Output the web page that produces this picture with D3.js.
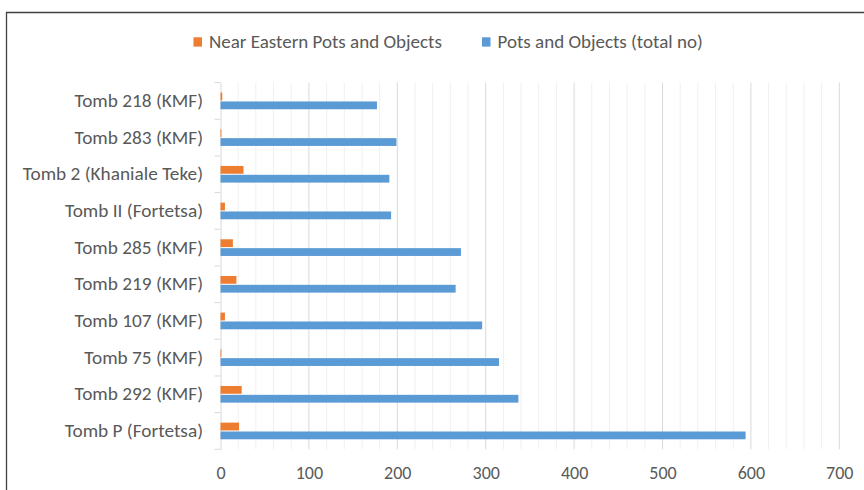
<!DOCTYPE html>
<html>
<head>
<meta charset="utf-8">
<script src="https://cdn.jsdelivr.net/npm/d3@7"></script>
<style>
  body { margin: 0; background: #fff; }
  text { font-family: "Carlito", "Noto Sans", sans-serif; }
</style>
</head>
<body>
<div id="chart"></div>
<script>
// data, top row first
const tombs = ["Tomb 218 (KMF)", "Tomb 283 (KMF)", "Tomb 2 (Khaniale Teke)", "Tomb II (Fortetsa)",
  "Tomb 285 (KMF)", "Tomb 219 (KMF)", "Tomb 107 (KMF)", "Tomb 75 (KMF)", "Tomb 292 (KMF)", "Tomb P (Fortetsa)"];
const nearEastern = [2, 1, 26, 5, 14, 18, 5, 1, 24, 21];
const totalObjects = [177, 199, 191, 193, 272, 266, 296, 315, 337, 594];
const seriesNames = ["Near Eastern Pots and Objects", "Pots and Objects (total no)"];
const seriesColors = ["#ED7D31", "#5B9BD5"];
const xTicks = [0, 100, 200, 300, 400, 500, 600, 700];

const width = 864, height = 490;
const margin = {top: 82.6, right: 25, bottom: 40.7, left: 220.5};

const svg = d3.select("#chart").append("svg")
  .attr("width", width)
  .attr("height", height);

// chart frame (cut off on right and bottom like the original)
svg.append("path")
  .attr("d", `M6.5,${height} V12.5 H${width}`)
  .attr("fill", "none")
  .attr("stroke", "#404040")
  .attr("stroke-width", 1.3);

const x = d3.scaleLinear()
  .domain([0, 700])
  .range([margin.left, 839.3]);

const y = d3.scaleBand()
  .domain(tombs)
  .range([margin.top, height - margin.bottom]);

const inner = d3.scaleBand()
  .domain([0, 1])
  .range([10, y.bandwidth() - 10])
  .paddingInner(0.12);

// gridlines every 20, darker every 100
svg.append("g")
  .selectAll("line")
  .data(d3.range(20, 701, 20))
  .enter().append("line")
    .attr("x1", d => x(d)).attr("x2", d => x(d))
    .attr("y1", margin.top).attr("y2", height - margin.bottom)
    .attr("stroke", d => d % 100 === 0 ? "#d9d9d9" : "#f0f0f0")
    .attr("stroke-width", 1);

// category axis
const yAxis = svg.append("g")
  .attr("transform", `translate(${margin.left},0)`)
  .call(d3.axisLeft(y).tickSize(0).tickPadding(17.5));
yAxis.select(".domain").attr("stroke", "#d9d9d9");
yAxis.selectAll("text")
  .attr("fill", "#595959")
  .style("font-size", "19.3px");

// small tick marks between categories
svg.append("g")
  .selectAll("line")
  .data(tombs.map(t => y(t)).concat([height - margin.bottom]))
  .enter().append("line")
    .attr("x1", margin.left - 6).attr("x2", margin.left)
    .attr("y1", d => d).attr("y2", d => d)
    .attr("stroke", "#d9d9d9");

// value axis labels
const xAxis = svg.append("g")
  .attr("transform", `translate(0,${height - margin.bottom})`)
  .call(d3.axisBottom(x).tickValues(xTicks).tickSize(0).tickPadding(17));
xAxis.select(".domain").remove();
xAxis.selectAll("text")
  .attr("fill", "#595959")
  .style("font-size", "18px");

// bars
const seriesData = [nearEastern, totalObjects];
seriesData.forEach((vals, s) => {
  svg.append("g")
    .selectAll("rect")
    .data(vals)
    .enter().append("rect")
      .attr("x", x(0))
      .attr("y", (d, i) => y(tombs[i]) + inner(s))
      .attr("width", d => x(d) - x(0))
      .attr("height", inner.bandwidth())
      .attr("fill", seriesColors[s]);
});

// legend
const legendX = [193.5, 482];
const legend = svg.append("g");
seriesNames.forEach((name, s) => {
  legend.append("rect")
    .attr("x", legendX[s]).attr("y", 37.3)
    .attr("width", 8.5).attr("height", 9.3)
    .attr("fill", seriesColors[s]);
  legend.append("text")
    .attr("x", legendX[s] + 15.5).attr("y", 48.3)
    .attr("fill", "#595959")
    .style("font-size", "19px")
    .text(name);
});
</script>
</body>
</html>
